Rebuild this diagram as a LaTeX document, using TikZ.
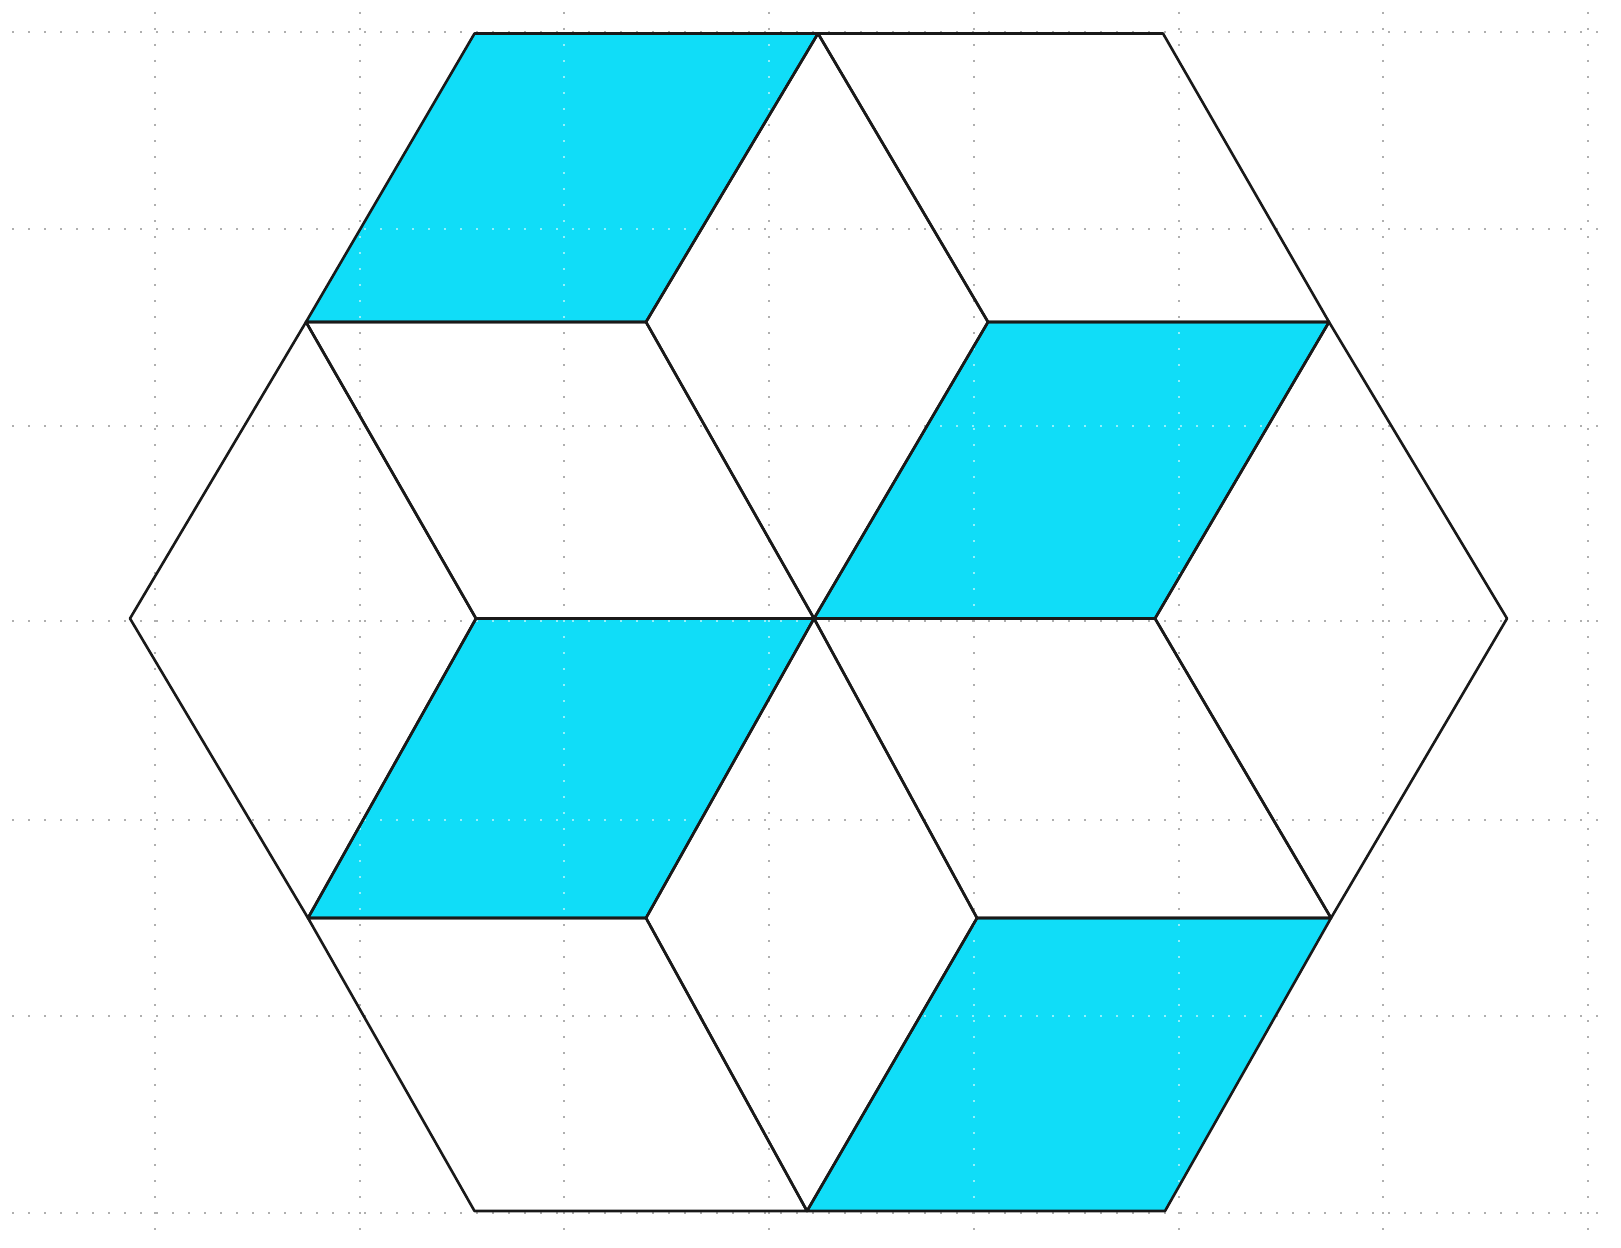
\documentclass[tikz,border=0pt]{standalone}
\definecolor{cyanfill}{RGB}{16,221,248}
\definecolor{gridgray}{RGB}{175,175,175}
\begin{document}
\begin{tikzpicture}[x=0.5pt,y=-0.5pt,
  gridline/.style={gridgray, line width=1pt, dash pattern=on 1pt off 7pt},
  gridlight/.style={white, opacity=0.55, line width=1pt, dash pattern=on 1pt off 7pt},
  edge/.style={black!90, line width=1.3pt, line join=round},
  tile/.style={fill=cyanfill}]
\useasboundingbox (0,0) rectangle (1621,1247);
\fill[white] (0,0) rectangle (1621,1247);
% dotted grid
\foreach \gx in {155,359.7,564.4,769.1,973.8,1178.5,1383.2,1587.9}
  \draw[gridline] (\gx,12) -- (\gx,1240);
\foreach \gy in {32,229,426,621,820,1016,1213}
  \draw[gridline] (12,\gy) -- (1612,\gy);
% lattice points
\coordinate (a0) at (474.5,33.5);
\coordinate (a1) at (818,33.5);
\coordinate (a2) at (1163,33.5);
\coordinate (b0) at (306,322);
\coordinate (b1) at (646,322);
\coordinate (b2) at (988,322);
\coordinate (b3) at (1329,322);
\coordinate (c0) at (130,618.5);
\coordinate (c1) at (476,618.5);
\coordinate (c2) at (814,618.5);
\coordinate (c3) at (1155,618.5);
\coordinate (c4) at (1507,618.5);
\coordinate (d0) at (308,918);
\coordinate (d1) at (646,918);
\coordinate (d2) at (977,918);
\coordinate (d3) at (1331,918);
\coordinate (e0) at (474.5,1211);
\coordinate (e1) at (807,1211);
\coordinate (e2) at (1165,1211);
% cyan rhombi
\fill[tile] (a0) -- (a1) -- (b1) -- (b0) -- cycle;
\fill[tile] (b2) -- (b3) -- (c3) -- (c2) -- cycle;
\fill[tile] (c1) -- (c2) -- (d1) -- (d0) -- cycle;
\fill[tile] (d2) -- (d3) -- (e2) -- (e1) -- cycle;
% faint grid showing through the cyan
\begin{scope}
  \clip (a0) -- (a1) -- (b1) -- (b0) -- cycle
        (b2) -- (b3) -- (c3) -- (c2) -- cycle
        (c1) -- (c2) -- (d1) -- (d0) -- cycle
        (d2) -- (d3) -- (e2) -- (e1) -- cycle;
  \foreach \gx in {155,359.7,564.4,769.1,973.8,1178.5,1383.2,1587.9}
    \draw[gridlight] (\gx,12) -- (\gx,1240);
  \foreach \gy in {32,229,426,621,820,1016,1213}
    \draw[gridlight] (12,\gy) -- (1612,\gy);
\end{scope}
% outlines of the twelve rhombi
\draw[edge] (a0) -- (a1) -- (b1) -- (b0) -- cycle;
\draw[edge] (a1) -- (a2) -- (b3) -- (b2) -- cycle;
\draw[edge] (a1) -- (b2) -- (c2) -- (b1) -- cycle;
\draw[edge] (b2) -- (b3) -- (c3) -- (c2) -- cycle;
\draw[edge] (c0) -- (b0) -- (c1) -- (d0) -- cycle;
\draw[edge] (b0) -- (b1) -- (c2) -- (c1) -- cycle;
\draw[edge] (c3) -- (b3) -- (c4) -- (d3) -- cycle;
\draw[edge] (c1) -- (c2) -- (d1) -- (d0) -- cycle;
\draw[edge] (c2) -- (d2) -- (e1) -- (d1) -- cycle;
\draw[edge] (c2) -- (c3) -- (d3) -- (d2) -- cycle;
\draw[edge] (d0) -- (d1) -- (e1) -- (e0) -- cycle;
\draw[edge] (d2) -- (d3) -- (e2) -- (e1) -- cycle;
\end{tikzpicture}
\end{document}
